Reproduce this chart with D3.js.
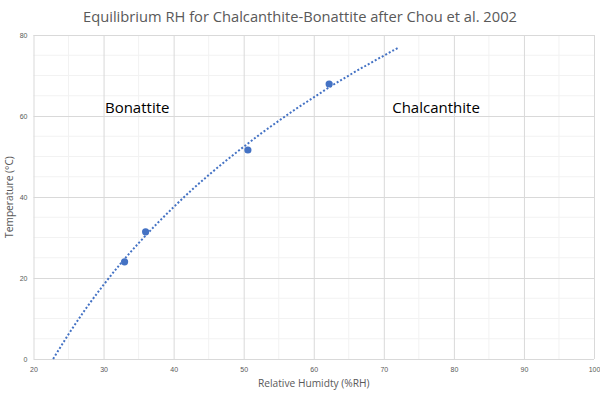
<!DOCTYPE html>
<html>
<head>
<meta charset="utf-8">
<script src="https://cdn.jsdelivr.net/npm/d3@7"></script>
<style>
  body { margin: 0; background: #fff; }
  svg { font-family: "Open Sans", sans-serif; }
</style>
</head>
<body>
<svg id="chart"></svg>
<script>
// measured points (Chou et al. 2002)
const rhPoints = [33.0, 36.0, 50.6, 62.2];
const tempPoints = [24.0, 31.4, 51.6, 67.9];

// dotted trendline
const trendRH = [22.8, 25, 27.5, 30, 32.5, 35, 37.5, 40, 42.5, 45, 47.5, 50, 52.5, 55, 57.5, 60, 62.5, 65, 67.5, 70, 72];
const trendT = [0, 6.1, 12.5, 18.3, 23.7, 28.6, 33.2, 37.5, 41.6, 45.4, 49.0, 52.4, 55.7, 58.8, 61.8, 64.6, 67.4, 70.0, 72.5, 74.9, 76.8];

const xTicks = [20, 30, 40, 50, 60, 70, 80, 90, 100];
const yTicks = [0, 20, 40, 60, 80];
const xMinor = d3.range(25, 100, 10);
const yMinor = d3.range(5, 80, 5).filter(d => d % 20 !== 0);

const labels = [
  { text: "Bonattite", rh: 30.2, t: 60.7 },
  { text: "Chalcanthite", rh: 71.2, t: 60.7 }
];

const width = 600;
const height = 400;
const margin = { top: 35, right: 6, bottom: 41, left: 33.5 };

const svg = d3.select("#chart")
  .attr("width", width)
  .attr("height", height);

const x = d3.scaleLinear()
  .domain([20, 100])
  .range([margin.left, width - margin.right]);

const y = d3.scaleLinear()
  .domain([0, 80])
  .range([height - margin.bottom, margin.top]);

const grid = svg.append("g");

// minor gridlines
grid.selectAll(".xminor")
  .data(xMinor)
  .join("line")
  .attr("x1", d => x(d)).attr("x2", d => x(d))
  .attr("y1", y(0)).attr("y2", y(80))
  .attr("stroke", "#f2f2f2");

grid.selectAll(".yminor")
  .data(yMinor)
  .join("line")
  .attr("y1", d => y(d)).attr("y2", d => y(d))
  .attr("x1", x(20)).attr("x2", x(100))
  .attr("stroke", "#f2f2f2");

// major gridlines via axes
const xAxis = svg.append("g")
  .attr("transform", `translate(0,${y(0)})`)
  .call(d3.axisBottom(x).tickValues(xTicks).tickSize(-(y(0) - y(80))).tickPadding(8));

const yAxis = svg.append("g")
  .attr("transform", `translate(${x(20)},0)`)
  .call(d3.axisLeft(y).tickValues(yTicks).tickSize(-(x(100) - x(20))).tickPadding(6));

[xAxis, yAxis].forEach(a => {
  a.select(".domain").remove();
  a.selectAll(".tick line").attr("stroke", "#d9d9d9");
  a.selectAll(".tick text")
    .attr("fill", "#595959")
    .style("font-size", "7px");
});

// trendline
const line = d3.line()
  .x((d, i) => x(trendRH[i]))
  .y((d, i) => y(trendT[i]))
  .curve(d3.curveMonotoneX);

svg.append("path")
  .datum(trendT)
  .attr("d", line)
  .attr("fill", "none")
  .attr("stroke", "#4472c4")
  .attr("stroke-width", 2)
  .attr("stroke-dasharray", "2,2");

svg.selectAll(".pt")
  .data(rhPoints)
  .join("circle")
  .attr("cx", d => x(d))
  .attr("cy", (d, i) => y(tempPoints[i]))
  .attr("r", 3.6)
  .attr("fill", "#4472c4");

svg.selectAll(".lbl")
  .data(labels)
  .join("text")
  .attr("x", d => x(d.rh))
  .attr("y", d => y(d.t))
  .attr("fill", "#000")
  .style("font-size", "15px")
  .text(d => d.text);

svg.append("text")
  .attr("x", 300)
  .attr("y", 22)
  .attr("text-anchor", "middle")
  .attr("fill", "#595959")
  .style("font-size", "14.7px")
  .text("Equilibrium RH for Chalcanthite-Bonattite after Chou et al. 2002");

svg.append("text")
  .attr("x", x(60))
  .attr("y", 387)
  .attr("text-anchor", "middle")
  .attr("fill", "#595959")
  .style("font-size", "10.2px")
  .text("Relative Humidty (%RH)");

svg.append("text")
  .attr("transform", `translate(13,${y(40)}) rotate(-90)`)
  .attr("text-anchor", "middle")
  .attr("fill", "#595959")
  .style("font-size", "10.2px")
  .text("Temperature (°C)");
</script>
</body>
</html>
